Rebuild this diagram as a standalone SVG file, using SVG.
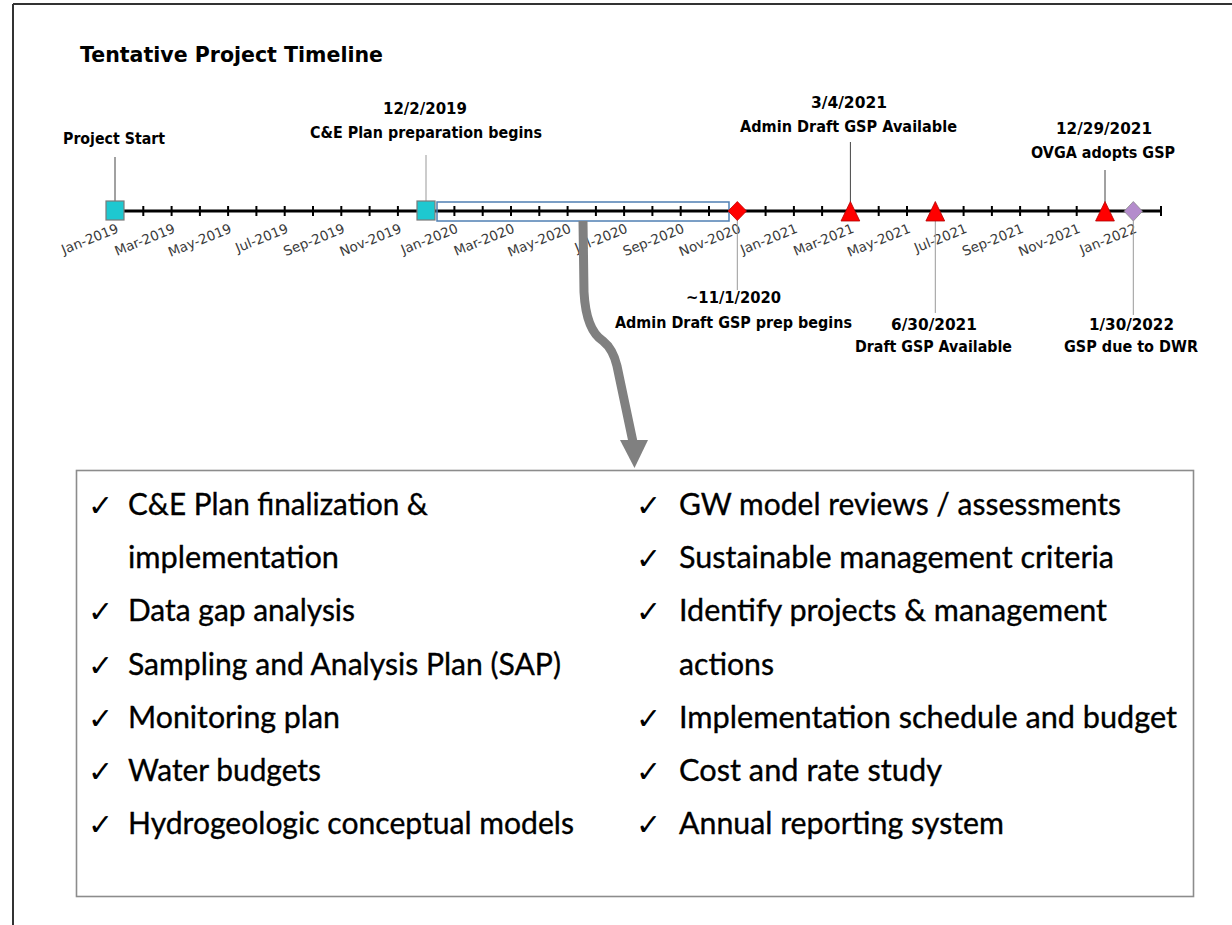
<svg xmlns="http://www.w3.org/2000/svg" width="1232" height="925" viewBox="0 0 1232 925">
<style>
.lbl{font-family:"DejaVu Sans","Liberation Sans",sans-serif;font-weight:bold;font-size:15px;fill:#000;text-anchor:start}
.mon{font-family:"DejaVu Sans","Liberation Sans",sans-serif;font-size:13.5px;fill:#3a3a3a;text-anchor:end}
.body{font-family:Lato,"Liberation Sans",sans-serif;font-size:31px;fill:#000;stroke:#000;stroke-width:0.35}
.chk{font-family:"DejaVu Sans",sans-serif;font-size:30px;fill:#000;font-weight:bold}
.tick{stroke:#000;stroke-width:2}
.stem{stroke:#444;stroke-width:1}
.stem2{stroke:#999;stroke-width:1}
.sq{fill:#1ec8d0;stroke:#7a7a7a;stroke-width:1.2}
.tri{fill:#ff0000;stroke:#b00000;stroke-width:0.8}
</style>
<rect x="0" y="0" width="1232" height="925" fill="#fff"/>
<g id="frame">
<line x1="13" y1="4" x2="1232" y2="4" stroke="#333" stroke-width="2"/>
<line x1="13" y1="4" x2="13" y2="925" stroke="#333" stroke-width="2"/>
</g>
<text id="title" x="80" y="62" class="lbl" style="font-size:21px" textLength="303" lengthAdjust="spacingAndGlyphs">Tentative Project Timeline</text>

<g id="axis">
<line x1="115" y1="211" x2="1161" y2="211" stroke="#000" stroke-width="3"/>
<g class="tick">
<line x1="143.3" y1="206" x2="143.3" y2="216"/><line x1="171.6" y1="206" x2="171.6" y2="216"/><line x1="199.9" y1="206" x2="199.9" y2="216"/><line x1="228.1" y1="206" x2="228.1" y2="216"/><line x1="256.4" y1="206" x2="256.4" y2="216"/><line x1="284.7" y1="206" x2="284.7" y2="216"/><line x1="313" y1="206" x2="313" y2="216"/><line x1="341.3" y1="206" x2="341.3" y2="216"/><line x1="369.6" y1="206" x2="369.6" y2="216"/><line x1="397.9" y1="206" x2="397.9" y2="216"/><line x1="426.1" y1="206" x2="426.1" y2="216"/><line x1="454.4" y1="206" x2="454.4" y2="216"/><line x1="482.7" y1="206" x2="482.7" y2="216"/><line x1="511" y1="206" x2="511" y2="216"/><line x1="539.3" y1="206" x2="539.3" y2="216"/><line x1="567.6" y1="206" x2="567.6" y2="216"/><line x1="595.9" y1="206" x2="595.9" y2="216"/><line x1="624.1" y1="206" x2="624.1" y2="216"/><line x1="652.4" y1="206" x2="652.4" y2="216"/><line x1="680.7" y1="206" x2="680.7" y2="216"/><line x1="709" y1="206" x2="709" y2="216"/><line x1="737.3" y1="206" x2="737.3" y2="216"/><line x1="765.6" y1="206" x2="765.6" y2="216"/><line x1="793.9" y1="206" x2="793.9" y2="216"/><line x1="822.1" y1="206" x2="822.1" y2="216"/><line x1="850.4" y1="206" x2="850.4" y2="216"/><line x1="878.7" y1="206" x2="878.7" y2="216"/><line x1="907" y1="206" x2="907" y2="216"/><line x1="935.3" y1="206" x2="935.3" y2="216"/><line x1="963.6" y1="206" x2="963.6" y2="216"/><line x1="991.9" y1="206" x2="991.9" y2="216"/><line x1="1020.1" y1="206" x2="1020.1" y2="216"/><line x1="1048.4" y1="206" x2="1048.4" y2="216"/><line x1="1076.7" y1="206" x2="1076.7" y2="216"/><line x1="1105" y1="206" x2="1105" y2="216"/><line x1="1133.3" y1="206" x2="1133.3" y2="216"/><line x1="1161" y1="206" x2="1161" y2="216"/>
</g>
<g id="month-labels">
<text class="mon" x="119.5" y="232" transform="rotate(-22 119.5 232)">Jan-2019</text>
<text class="mon" x="176.1" y="232" transform="rotate(-22 176.1 232)">Mar-2019</text>
<text class="mon" x="232.6" y="232" transform="rotate(-22 232.6 232)">May-2019</text>
<text class="mon" x="289.2" y="232" transform="rotate(-22 289.2 232)">Jul-2019</text>
<text class="mon" x="345.8" y="232" transform="rotate(-22 345.8 232)">Sep-2019</text>
<text class="mon" x="402.4" y="232" transform="rotate(-22 402.4 232)">Nov-2019</text>
<text class="mon" x="458.9" y="232" transform="rotate(-22 458.9 232)">Jan-2020</text>
<text class="mon" x="515.5" y="232" transform="rotate(-22 515.5 232)">Mar-2020</text>
<text class="mon" x="572.1" y="232" transform="rotate(-22 572.1 232)">May-2020</text>
<text class="mon" x="628.6" y="232" transform="rotate(-22 628.6 232)">Jul-2020</text>
<text class="mon" x="685.2" y="232" transform="rotate(-22 685.2 232)">Sep-2020</text>
<text class="mon" x="741.8" y="232" transform="rotate(-22 741.8 232)">Nov-2020</text>
<text class="mon" x="798.4" y="232" transform="rotate(-22 798.4 232)">Jan-2021</text>
<text class="mon" x="854.9" y="232" transform="rotate(-22 854.9 232)">Mar-2021</text>
<text class="mon" x="911.5" y="232" transform="rotate(-22 911.5 232)">May-2021</text>
<text class="mon" x="968.1" y="232" transform="rotate(-22 968.1 232)">Jul-2021</text>
<text class="mon" x="1024.6" y="232" transform="rotate(-22 1024.6 232)">Sep-2021</text>
<text class="mon" x="1081.2" y="232" transform="rotate(-22 1081.2 232)">Nov-2021</text>
<text class="mon" x="1137.8" y="232" transform="rotate(-22 1137.8 232)">Jan-2022</text>
</g>
</g>

<g id="connectors">
<line class="stem" x1="115" y1="157" x2="115" y2="201" stroke="#000"/>
<line class="stem2" x1="426" y1="155" x2="426" y2="201"/>
<line class="stem" x1="850.4" y1="142" x2="850.4" y2="202"/>
<line class="stem" x1="1105" y1="170" x2="1105" y2="202"/>
<line class="stem2" x1="737.3" y1="220" x2="737.3" y2="290"/>
<line class="stem2" x1="935.3" y1="220" x2="935.3" y2="313"/>
<line class="stem2" x1="1133.3" y1="221" x2="1133.3" y2="315"/>
</g>

<g id="phase-box">
<rect x="437" y="202" width="292" height="19" fill="none" stroke="#4f7fb3" stroke-width="1.5"/>
</g>

<g id="m-project-start">
<rect class="sq" x="106" y="201" width="18" height="19"/>
<text class="lbl" x="63" y="144" textLength="102" lengthAdjust="spacingAndGlyphs">Project Start</text>
</g>
<g id="m-ce-plan">
<rect class="sq" x="417" y="201" width="18" height="19"/>
<text class="lbl" x="383" y="114" textLength="84" lengthAdjust="spacingAndGlyphs">12/2/2019</text>
<text class="lbl" x="310" y="138" textLength="232" lengthAdjust="spacingAndGlyphs">C&amp;E Plan preparation begins</text>
</g>
<g id="m-admin-prep">
<polygon points="737.3,201.5 746.5,211 737.3,220.5 728.1,211" fill="#ff0000" stroke="#c00000" stroke-width="0.8"/>
<text class="lbl" x="686" y="303" textLength="95" lengthAdjust="spacingAndGlyphs">~11/1/2020</text>
<text class="lbl" x="615" y="328" textLength="237" lengthAdjust="spacingAndGlyphs">Admin Draft GSP prep begins</text>
</g>
<g id="m-admin-avail">
<polygon class="tri" points="850.4,201.5 859.8,221 841,221"/>
<text class="lbl" x="811" y="108" textLength="76" lengthAdjust="spacingAndGlyphs">3/4/2021</text>
<text class="lbl" x="740" y="132" textLength="217" lengthAdjust="spacingAndGlyphs">Admin Draft GSP Available</text>
</g>
<g id="m-draft-avail">
<polygon class="tri" points="935.3,201.5 944.7,221 925.9,221"/>
<text class="lbl" x="891" y="330" textLength="86" lengthAdjust="spacingAndGlyphs">6/30/2021</text>
<text class="lbl" x="855" y="352" textLength="157" lengthAdjust="spacingAndGlyphs">Draft GSP Available</text>
</g>
<g id="m-adopt">
<polygon class="tri" points="1105,201.5 1114.4,221 1095.6,221"/>
<text class="lbl" x="1056" y="134" textLength="96" lengthAdjust="spacingAndGlyphs">12/29/2021</text>
<text class="lbl" x="1031" y="158" textLength="144" lengthAdjust="spacingAndGlyphs">OVGA adopts GSP</text>
</g>
<g id="m-due">
<polygon points="1133.3,201.5 1142.5,211.3 1133.3,221 1124.1,211.3" fill="#b48ccc" stroke="#8a8a8a" stroke-width="0.8"/>
<text class="lbl" x="1089" y="330" textLength="85" lengthAdjust="spacingAndGlyphs">1/30/2022</text>
<text class="lbl" x="1064" y="352" textLength="134" lengthAdjust="spacingAndGlyphs">GSP due to DWR</text>
</g>

<g id="tasks-box">
<rect x="76.5" y="470.5" width="1117" height="426" fill="#fff" stroke="#8c8c8c" stroke-width="1.6"/>
<g id="tasks-left">
<text class="chk" x="88" y="516">✓</text>
<text class="body" x="128" y="515" textLength="300" lengthAdjust="spacingAndGlyphs">C&amp;E Plan finalization &amp;</text>
<text class="body" x="128" y="568" textLength="211" lengthAdjust="spacingAndGlyphs">implementation</text>
<text class="chk" x="88" y="622">✓</text>
<text class="body" x="128" y="621" textLength="227" lengthAdjust="spacingAndGlyphs">Data gap analysis</text>
<text class="chk" x="88" y="676">✓</text>
<text class="body" x="128" y="675" textLength="433" lengthAdjust="spacingAndGlyphs">Sampling and Analysis Plan (SAP)</text>
<text class="chk" x="88" y="729">✓</text>
<text class="body" x="128" y="728" textLength="212" lengthAdjust="spacingAndGlyphs">Monitoring plan</text>
<text class="chk" x="88" y="782">✓</text>
<text class="body" x="128" y="781" textLength="193" lengthAdjust="spacingAndGlyphs">Water budgets</text>
<text class="chk" x="88" y="835">✓</text>
<text class="body" x="128" y="834" textLength="446" lengthAdjust="spacingAndGlyphs">Hydrogeologic conceptual models</text>
</g>
<g id="tasks-right">
<text class="chk" x="636" y="516">✓</text>
<text class="body" x="679" y="515" textLength="442" lengthAdjust="spacingAndGlyphs">GW model reviews / assessments</text>
<text class="chk" x="636" y="569">✓</text>
<text class="body" x="679" y="568" textLength="435" lengthAdjust="spacingAndGlyphs">Sustainable management criteria</text>
<text class="chk" x="636" y="622">✓</text>
<text class="body" x="679" y="621" textLength="428" lengthAdjust="spacingAndGlyphs">Identify projects &amp; management</text>
<text class="body" x="679" y="675" textLength="95" lengthAdjust="spacingAndGlyphs">actions</text>
<text class="chk" x="636" y="729">✓</text>
<text class="body" x="679" y="728" textLength="498" lengthAdjust="spacingAndGlyphs">Implementation schedule and budget</text>
<text class="chk" x="636" y="782">✓</text>
<text class="body" x="679" y="781" textLength="263" lengthAdjust="spacingAndGlyphs">Cost and rate study</text>
<text class="chk" x="636" y="835">✓</text>
<text class="body" x="679" y="834" textLength="325" lengthAdjust="spacingAndGlyphs">Annual reporting system</text>
</g>
</g>

<g id="callout-arrow">
<path d="M583,221 L584,292 Q586,330 603,341 Q613,349 617,366 L633,442" fill="none" stroke="#808080" stroke-width="9"/>
<polygon points="620,440 648,440 634.5,468" fill="#808080"/>
</g>
</svg>
